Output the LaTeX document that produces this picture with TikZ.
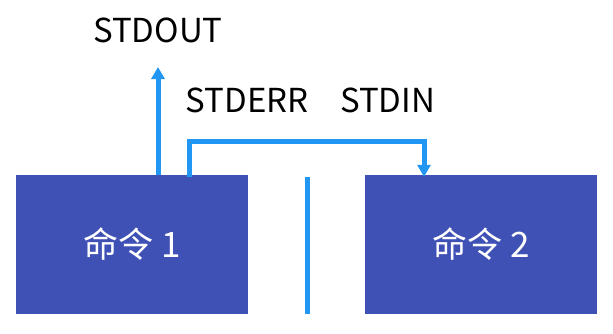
\documentclass[tikz,border=0pt]{standalone}
\usepackage{fontspec}
\setmainfont{Noto Sans CJK SC}
\usetikzlibrary{arrows.meta,positioning}

\begin{document}
\begin{tikzpicture}[
    x=1pt,y=1pt,
    cmd/.style={fill=indigo,minimum width=232pt,minimum height=139pt,
                inner sep=0pt,font=\fontsize{35}{40}\selectfont,text=white},
    pipe/.style={-{Triangle[length=12pt,width=13pt]},line width=5pt,arrowblue},
    stream/.style={font=\fontsize{33}{38}\selectfont,inner sep=0pt},
]
\definecolor{indigo}{HTML}{3F51B5}
\definecolor{arrowblue}{HTML}{2196F3}
\useasboundingbox (0,0) rectangle (613,333);

% the two commands
\node[cmd] (cmdA) at (132,88.5) {命令 1};
\node[cmd] (cmdB) at (481,88.5) {命令 2};

% separator between them
\coordinate (sepTop) at (307,156);
\coordinate (sepBot) at (307,19);
\draw[line width=5pt,arrowblue] (sepTop) -- (sepBot);

% STDOUT goes up
\coordinate (out) at (158,266);
\draw[pipe] ([xshift=26pt]cmdA.north) -- (out);
\node[stream] (stdout) at (158,303) {STDOUT};

% STDERR of command 1 into STDIN of command 2
\draw[pipe] ([xshift=57pt,yshift=-2pt]cmdA.north) |- ++(0,35)
            -| ([xshift=-57pt,yshift=-2pt]cmdB.north);
\node[stream] (stderr) at (247,233) {STDERR};
\node[stream] (stdin)  at (387.5,233) {STDIN};

\end{tikzpicture}
\end{document}
